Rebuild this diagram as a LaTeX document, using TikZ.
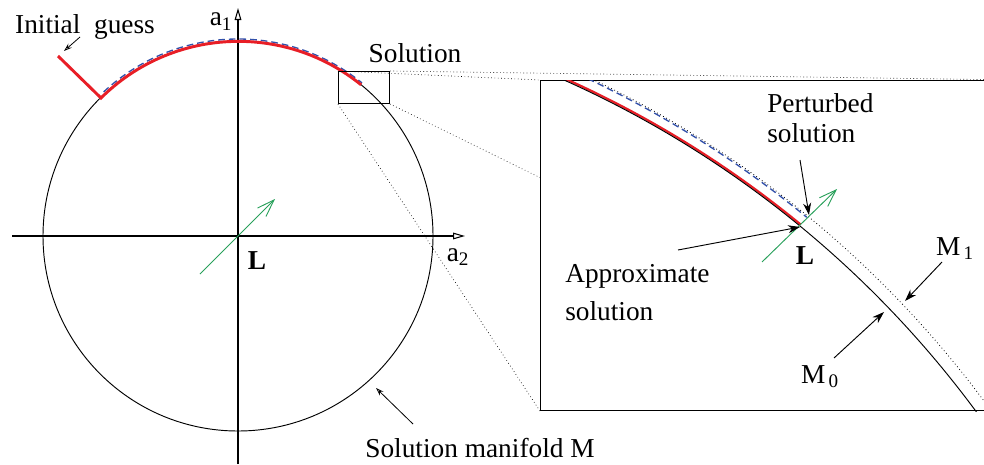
\documentclass[tikz,border=0pt]{standalone}
\usepackage{fontspec}
\setmainfont{Liberation Serif}
\usetikzlibrary{arrows.meta, backgrounds}

\definecolor{guessred}{RGB}{232,30,38}
\definecolor{normalgreen}{RGB}{40,160,90}
\definecolor{perturbblue}{RGB}{50,80,170}

\begin{document}
\begin{tikzpicture}[
  x=0.75pt, y=-0.75pt,
  every node/.style={font=\fontsize{20.5}{24}\selectfont, inner sep=0pt},
  axis/.style={line width=0.8pt, -{Triangle[open, length=9pt, width=5pt]}},
  manifold/.style={line width=0.7pt},
  offmanifold/.style={line width=0.6pt, dotted},
  guess/.style={line width=2.2pt, guessred},
  perturbed/.style={line width=1pt, perturbblue, dash pattern=on 5pt off 3pt},
  normalarrow/.style={line width=0.7pt, normalgreen, -{Straight Barb[length=13pt, width=9pt]}},
  pointer/.style={line width=0.7pt, -{Stealth[length=9pt, width=6pt]}},
  thinpointer/.style={line width=0.6pt, -{Stealth[open, length=6pt, width=4pt]}},
  zoomline/.style={line width=0.5pt, dotted},
  zoombox/.style={draw, line width=0.8pt, inner sep=0pt, anchor=north west}
]
  \useasboundingbox (0,0) rectangle (984,464);
  \clip (0,0) rectangle (984,464);

  % axes and solution manifold
  \coordinate (xfrom) at (12,236);
  \coordinate (xto) at (465,236);
  \coordinate (yfrom) at (238,464);
  \coordinate (yto) at (238,8);
  \coordinate (origin) at (238,236);
  \draw[axis] (xfrom) -- (xto);
  \draw[axis] (yfrom) -- (yto);
  \draw[manifold] (origin) circle[radius=195];
  \node[anchor=base] (aone) at (221,26) {a\textsubscript{1}};
  \node[anchor=base] (atwo) at (458,261) {a\textsubscript{2}};

  % initial guess and path along the manifold
  \coordinate (start) at (58,56);
  \coordinate (kink) at (101,98);
  \draw[perturbed] (origin) ++(-133:197) arc[start angle=-133, end angle=-51, radius=197];
  \draw[guess] (start) -- (kink) arc[start angle=-134.8, end angle=-51, radius=195];

  \coordinate (ltail) at (200,274);
  \coordinate (lhead) at (275,199);
  \draw[normalarrow] (ltail) -- (lhead);
  \node[anchor=base] (lmain) at (257,269) {\bfseries L};

  \node[anchor=base] (guesslabel) at (85,33) {Initial\ \ guess};
  \coordinate (guesstail) at (80,37);
  \coordinate (guesstip) at (64,51);
  \draw[thinpointer] (guesstail) -- (guesstip);

  \node[anchor=base] (manifoldlabel) at (480,457) {Solution manifold M};
  \coordinate (manifoldtail) at (413,424);
  \coordinate (manifoldtip) at (376,388);
  \draw[thinpointer] (manifoldtail) -- (manifoldtip);

  % zoomed detail
  \node[anchor=base] (sollabel) at (415,62) {Solution};
  \node[zoombox, minimum width=38.25pt, minimum height=24pt] (lens) at (338,71) {};
  \node[zoombox, fill=white, minimum width=356.25pt, minimum height=247.5pt] (detail) at (540,80) {};
  \begin{scope}[on background layer]
    \draw[zoomline] (lens.north west) -- (detail.north west);
    \draw[zoomline] (lens.north east) -- (detail.north east);
    \draw[zoomline] (lens.south west) -- (detail.south west);
    \draw[zoomline] (lens.south east) -- (detail.south east);
  \end{scope}

  \begin{scope}
    \clip (detail.north west) rectangle (detail.south east);
    \coordinate (bigc) at (140,1029);
    \draw[offmanifold] (bigc) ++(-70:1052) arc[start angle=-70, end angle=-30, radius=1052];
    \draw[guess, line width=1.7pt] (bigc) ++(-70:1041) arc[start angle=-70, end angle=-50.6, radius=1041];
    \draw[manifold] (bigc) ++(-70:1039.4) arc[start angle=-70, end angle=-30, radius=1039.4];
    \draw[perturbed] (bigc) ++(-70:1050.5) arc[start angle=-70, end angle=-50.6, radius=1050.5];
  \end{scope}

  \coordinate (ztail) at (762,262);
  \coordinate (zhead) at (837,189);
  \draw[normalarrow] (ztail) -- (zhead);
  \node[anchor=base] (lzoom) at (805,264) {\bfseries L};

  \node[anchor=base west, align=left] (perturblabel) at (767,142) {Perturbed\\[-2pt]solution};
  \coordinate (perturbtail) at (800,160);
  \coordinate (perturbtip) at (809,215);
  \draw[pointer] (perturbtail) -- (perturbtip);

  \node[anchor=base west, align=left] (approxlabel) at (565,320) {Approximate\\[4.5pt]solution};
  \coordinate (approxtail) at (678,250);
  \coordinate (approxtip) at (800,227);
  \draw[pointer] (approxtail) -- (approxtip);

  \node[anchor=base] (mone) at (955,255) {M\textsubscript{\,1}};
  \coordinate (monetail) at (942,262);
  \coordinate (monetip) at (905,301);
  \draw[pointer] (monetail) -- (monetip);

  \node[anchor=base] (mzero) at (820,383) {M\textsubscript{\,0}};
  \coordinate (mzerotail) at (834,358);
  \coordinate (mzerotip) at (884,312);
  \draw[pointer] (mzerotail) -- (mzerotip);
\end{tikzpicture}
\end{document}
